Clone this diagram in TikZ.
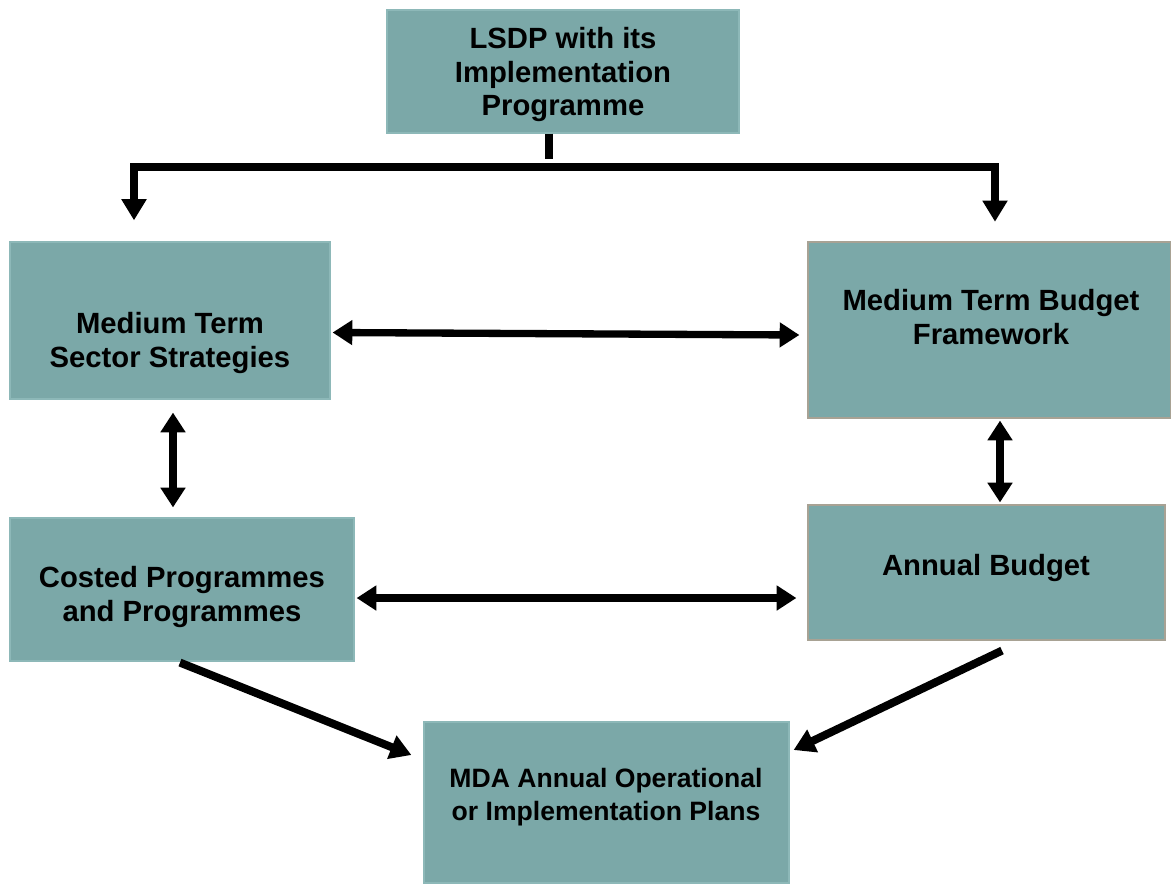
\documentclass[tikz,border=0pt]{standalone}
\usepackage{fontspec}
\setmainfont{Liberation Sans}
\usetikzlibrary{arrows.meta}

\definecolor{boxteal}{HTML}{7BA8A8}
\definecolor{edgeteal}{HTML}{8DB8B8}
\definecolor{edgegrey}{HTML}{A8A294}

\tikzset{
  box/.style={rectangle, fill=boxteal, draw=edgeteal, line width=0.8pt, inner sep=0pt},
  boxtext/.style={align=center, inner sep=0pt, font=\bfseries\fontsize{20.8}{23.8}\selectfont},
  smalltext/.style={boxtext, font=\bfseries\fontsize{18.9}{23.4}\selectfont},
  bar/.style={line width=5.7pt},
  arr/.style={bar, -{Triangle[length=15pt, width=17pt]}},
  dbl/.style={line width=5.2pt, {Triangle[length=14pt, width=17pt]}-{Triangle[length=14pt, width=17pt]}}
}

\begin{document}
\begin{tikzpicture}[x=0.025cm, y=-0.025cm]
  \useasboundingbox (0, 0) rectangle (1171, 883);

  % boxes
  \node[box, minimum width=8.8cm, minimum height=3.075cm] (lsdp) at (563, 71.5) {};
  \node[box, minimum width=8cm, minimum height=3.925cm] (mtss) at (170, 320.5) {};
  \node[box, draw=edgegrey, minimum width=9.075cm, minimum height=4.4cm] (mtbf) at (989.5, 330) {};
  \node[box, minimum width=8.6cm, minimum height=3.575cm] (costed) at (182, 589.5) {};
  \node[box, draw=edgegrey, minimum width=8.925cm, minimum height=3.375cm] (annual) at (986.5, 572.5) {};
  \node[box, minimum width=9.125cm, minimum height=4.025cm] (mda) at (606.5, 802.5) {};

  % texts
  \node[boxtext] (lsdp text) at (563, 74.5) {LSDP with its\\Implementation\\Programme};
  \node[boxtext] (mtss text) at (170, 343) {Medium Term\\Sector Strategies};
  \node[boxtext] (mtbf text) at (991, 317) {Medium Term Budget\\Framework};
  \node[boxtext] (costed text) at (182, 597) {Costed Programmes\\and Programmes};
  \node[boxtext] (annual text) at (986, 568) {Annual Budget};
  \node[smalltext] (mda text) at (606, 797) {MDA Annual Operational\\or Implementation Plans};

  % split from the LSDP to both frameworks
  \coordinate (split) at (549, 167);
  \coordinate (barL) at (134, 167);
  \coordinate (barR) at (995, 167);
  \draw[line width=5.6pt] (lsdp.south -| split) -- ([shift={(0, -8)}]split);
  \draw[bar, line cap=rect] (barL) -- (barR);
  \draw[arr, shorten >=15] (barL) -- (barL |- mtss.north);
  \draw[arr, shorten >=14] (barR) -- (barR |- mtbf.north);

  % links between the boxes
  \draw[dbl] ([shift={(2, 12)}]mtss.east) -- ([shift={(-8, 5)}]mtbf.west);
  \draw[dbl] ([shift={(3, 13)}]mtss.south) -- ([shift={(-9, -10)}]costed.north);
  \draw[dbl] ([shift={(10.5, 2)}]mtbf.south) -- ([shift={(13.5, -2)}]annual.north);
  \draw[dbl] ([shift={(2, 8.5)}]costed.east) -- ([shift={(-11, 25.5)}]annual.west);

  \draw[arr] ([shift={(-2, 1)}]costed.south) -- ([shift={(-12, -47.5)}]mda.west);
  \draw[arr] ([shift={(15.5, 10)}]annual.south) -- ([shift={(4, -52.5)}]mda.east);
\end{tikzpicture}
\end{document}
